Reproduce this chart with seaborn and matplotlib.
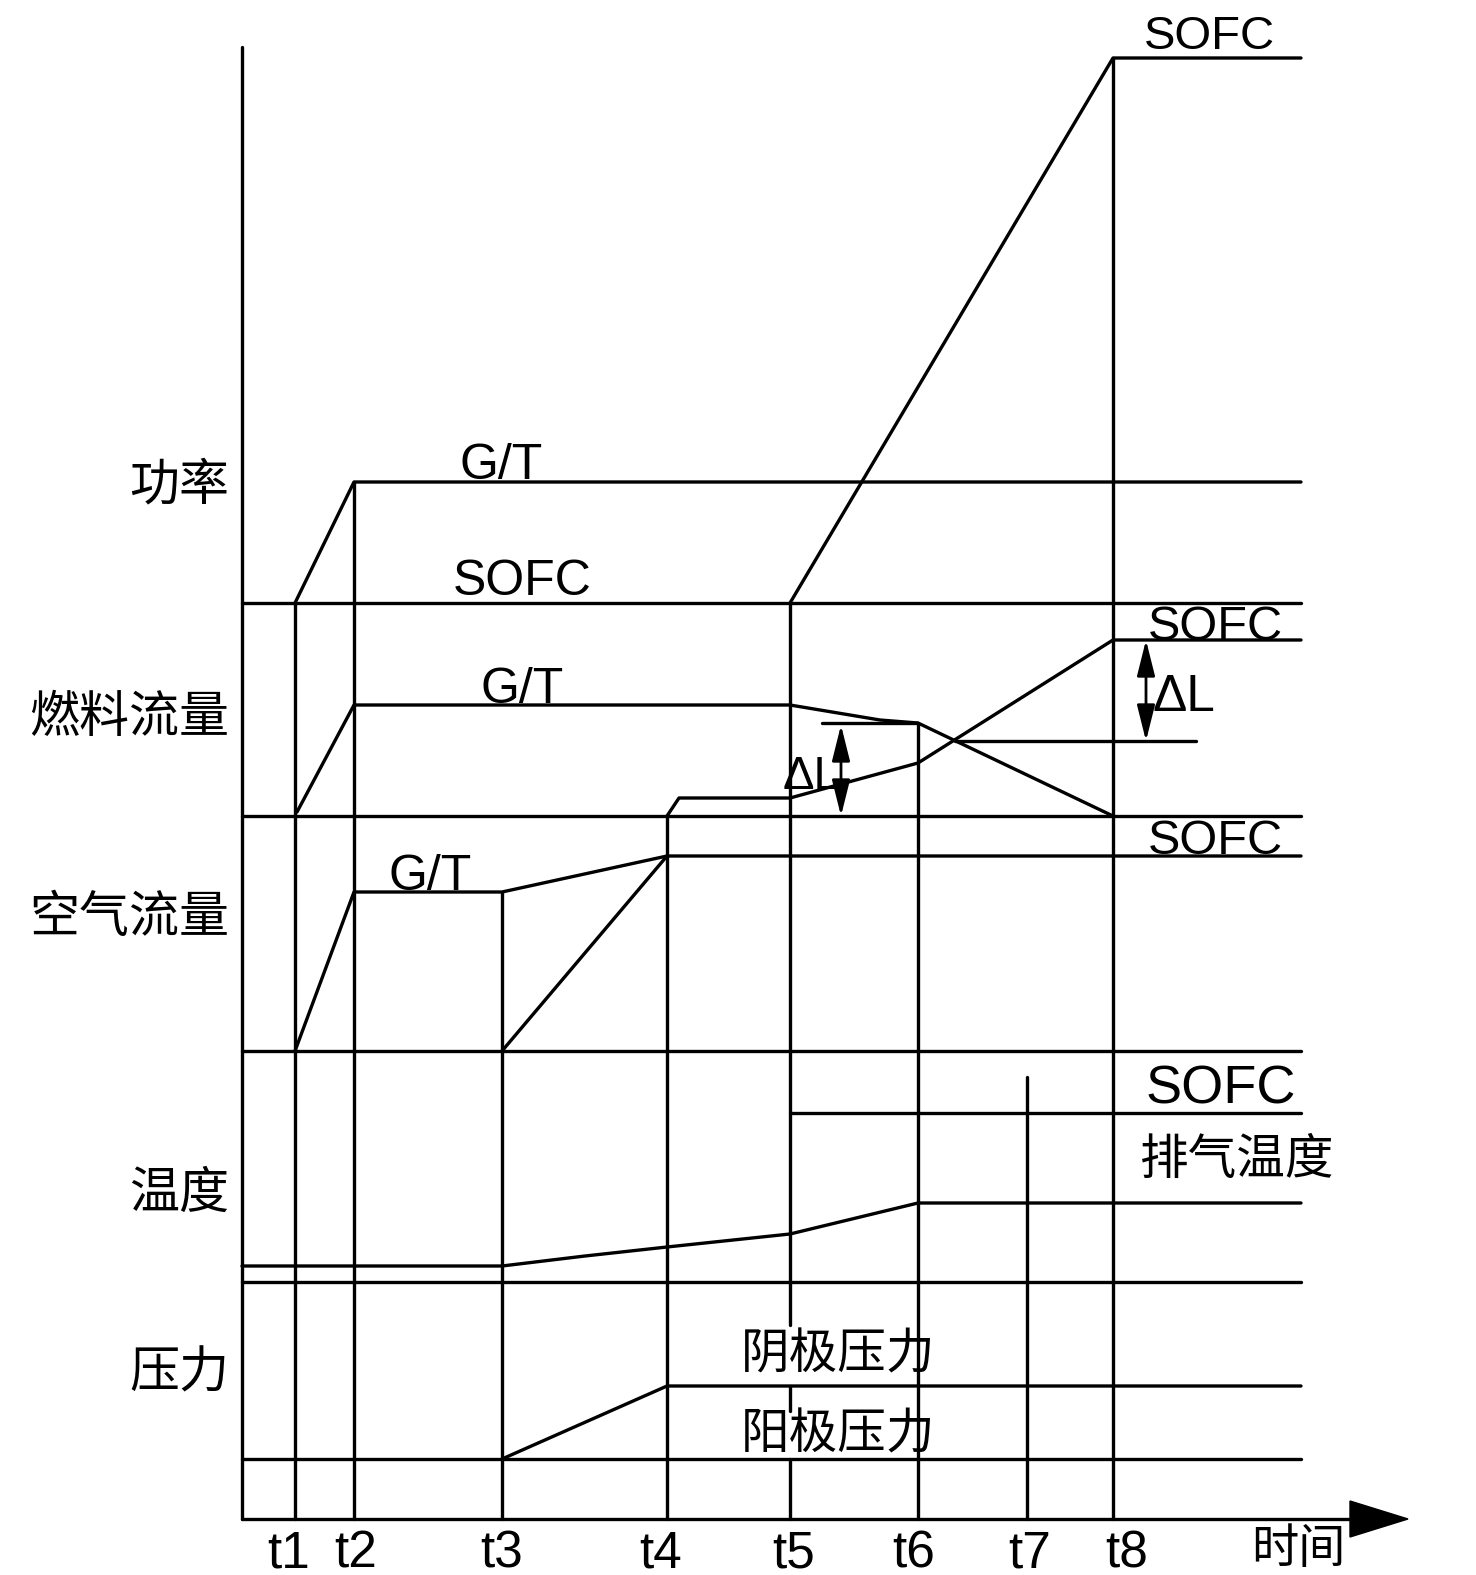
import numpy as np
import pandas as pd
import seaborn as sns
import matplotlib.pyplot as plt

# posições dos instantes t1..t8 no eixo do tempo
t_names = ['t1', 't2', 't3', 't4', 't5', 't6', 't7', 't8']
t_x = [295, 354, 502, 667, 790, 918, 1027, 1113]
t1, t2, t3, t4, t5, t6, t7, t8 = t_x
x0, x1 = 242, 1301          # início e fim das linhas horizontais
y_top, y_axis = 47, 1519    # topo do eixo vertical e eixo do tempo

# linhas de base de cada bloco
base_levels = [603, 816, 1051, 1282, 1459]

# potência
pot_gt_x = [t1, t2, x1]
pot_gt_y = [603, 482, 482]
pot_sofc_x = [t5, t8, x1]
pot_sofc_y = [603, 58, 58]

# vazão de combustível
comb_gt_x = [297, t2, t5, 880, t6, t8]
comb_gt_y = [812, 705, 705, 720, 723, 816]
comb_sofc_x = [t4, 679, t5, t6, t8, x1]
comb_sofc_y = [816, 798, 798, 763, 640, 640]
comb_ref_x = [955, 1196]
comb_ref_y = [741, 741]
dl_tick_x = [822, t6]
dl_tick_y = [723, 723]

# vazão de ar
ar_gt_x = [t1, t2, t3, t4]
ar_gt_y = [1051, 892, 892, 856]
ar_sofc_x = [t3, t4, x1]
ar_sofc_y = [1051, 856, 856]

# temperatura
temp_esc_x = [x0, t3, 585, t4, t5, t6, x1]
temp_esc_y = [1266, 1266, 1256, 1247, 1234, 1203, 1203]
temp_sofc_x = [t5, x1]
temp_sofc_y = [1113, 1113]

# pressão
pres_cat_x = [t3, t4, x1]
pres_cat_y = [1459, 1386, 1386]

# trechos verticais em cada instante (início, fim)
vert_spans = {
    t1: [(603, y_axis)],
    t2: [(482, y_axis)],
    t3: [(892, y_axis)],
    t4: [(816, y_axis)],
    t5: [(603, 1325), (1386, 1411), (1459, y_axis)],
    t6: [(723, y_axis)],
    t7: [(1077, y_axis)],
    t8: [(58, y_axis)],
}

# montar tabela longa com um id por segmento
rows = []
def add(seg, xs, ys):
    for a, b in zip(xs, ys):
        rows.append({'seg': seg, 'x': a, 'y': b})

add('eixo_y', [x0, x0], [y_top, y_axis])
add('eixo_x', [x0, 1352], [y_axis, y_axis])
for i, lv in enumerate(base_levels):
    add(f'base{i}', [x0, x1], [lv, lv])
for tx, spans in vert_spans.items():
    for j, (ya, yb) in enumerate(spans):
        add(f'v{tx}_{j}', [tx, tx], [ya, yb])
add('pot_gt', pot_gt_x, pot_gt_y)
add('pot_sofc', pot_sofc_x, pot_sofc_y)
add('comb_gt', comb_gt_x, comb_gt_y)
add('comb_sofc', comb_sofc_x, comb_sofc_y)
add('comb_ref', comb_ref_x, comb_ref_y)
add('dl_tick', dl_tick_x, dl_tick_y)
add('ar_gt', ar_gt_x, ar_gt_y)
add('ar_sofc', ar_sofc_x, ar_sofc_y)
add('temp_esc', temp_esc_x, temp_esc_y)
add('temp_sofc', temp_sofc_x, temp_sofc_y)
add('pres_cat', pres_cat_x, pres_cat_y)
df = pd.DataFrame(rows)

sns.set_theme(style='white')
cjk = ['Noto Sans CJK SC', 'DejaVu Sans']
lat = ['Liberation Sans', 'DejaVu Sans']
narrow = ['Liberation Sans Narrow', 'Liberation Sans', 'DejaVu Sans']

fig = plt.figure(figsize=(14.76, 15.75), dpi=100)
ax = fig.add_axes([0, 0, 1, 1])
sns.lineplot(data=df, x='x', y='y', units='seg', estimator=None, sort=False,
             color='black', linewidth=2.4, ax=ax, legend=False)
ax.set_xlim(0, 1476)
ax.set_ylim(1575, 0)
ax.axis('off')

# ponta da seta do eixo do tempo
ax.fill([1350, 1408, 1350], [y_axis - 18, y_axis, y_axis + 18], color='black')

# setas de ΔL
arrow = dict(arrowstyle='<|-|>,head_length=1.0,head_width=0.25', color='black',
             lw=2, shrinkA=0, shrinkB=0, mutation_scale=22)
ax.annotate('', xy=(841, 725), xytext=(841, 816), arrowprops=arrow)
ax.annotate('', xy=(1146, 640), xytext=(1146, 741), arrowprops=arrow)

# rótulos do eixo vertical
for txt, yy in [('功率', 485), ('燃料流量', 718), ('空气流量', 918), ('温度', 1194), ('压力', 1373)]:
    ax.text(229, yy, txt, family=cjk, fontsize=36, ha='right', va='center', color='black')

# rótulos dos instantes
for name, xx in zip(t_names, [289, 356, 502, 661, 794, 914, 1030, 1127]):
    ax.text(xx, 1567, name, family=narrow, fontsize=37, ha='center', va='baseline', color='black')
ax.text(1298, 1550, '时间', family=cjk, fontsize=34, ha='center', va='center', color='black')

# rótulos das curvas
lat_labels = [
    ('SOFC', 1209, 49, 34), ('G/T', 501, 479, 36), ('SOFC', 522, 595, 36),
    ('G/T', 522, 703, 36), ('SOFC', 1215, 640, 35), ('SOFC', 1215, 854, 35),
    ('G/T', 430, 890, 36), ('SOFC', 1221, 1103, 39),
    ('ΔL', 811, 789, 34), ('ΔL', 1184, 711, 37),
]
for txt, xx, yy, fs in lat_labels:
    ax.text(xx, yy, txt, family=lat, fontsize=fs, ha='center', va='baseline', color='black')

for txt, xx, yy in [('排气温度', 1237, 1160), ('阴极压力', 838, 1355), ('阳极压力', 838, 1435)]:
    ax.text(xx, yy, txt, family=cjk, fontsize=35, ha='center', va='center', color='black')

plt.savefig('out.png', dpi=100)
